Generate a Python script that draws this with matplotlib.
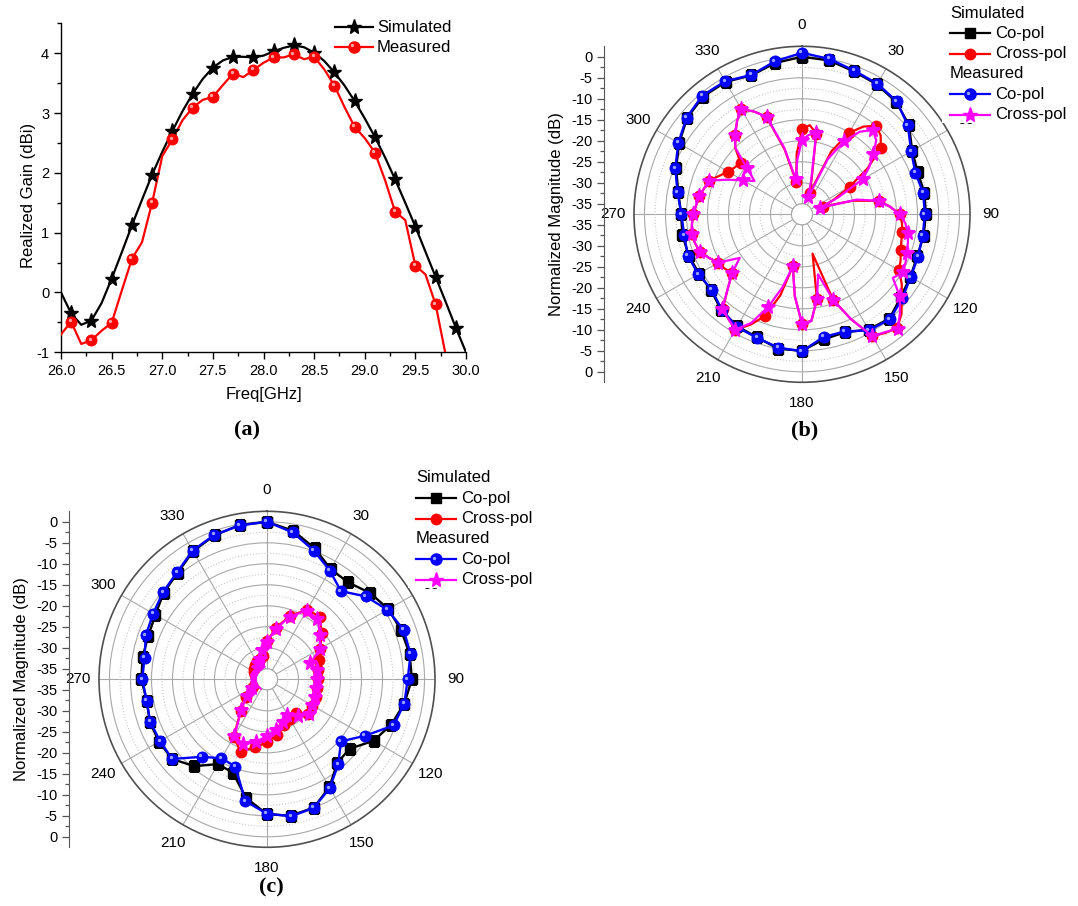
import numpy as np
import matplotlib
matplotlib.use("Agg")
import matplotlib.pyplot as plt
from matplotlib.lines import Line2D
from matplotlib.patches import Rectangle
from matplotlib.ticker import MultipleLocator, FixedLocator
from matplotlib.transforms import offset_copy

plt.rcParams['font.family'] = ['Liberation Sans', 'DejaVu Sans']
plt.rcParams['axes.unicode_minus'] = False

# ---------------- data: (a) realized gain ----------------
freq = [26.0, 26.1, 26.2, 26.3, 26.4, 26.5, 26.6, 26.7, 26.8, 26.9,
        27.0, 27.1, 27.2, 27.3, 27.4, 27.5, 27.6, 27.7, 27.8, 27.9,
        28.0, 28.1, 28.2, 28.3, 28.4, 28.5, 28.6, 28.7, 28.8, 28.9,
        29.0, 29.1, 29.2, 29.3, 29.4, 29.5, 29.6, 29.7, 29.8, 29.9, 30.0]
gain_sim = [0.0, -0.35, -0.54, -0.47, -0.18, 0.23, 0.67, 1.12, 1.55, 1.97,
            2.35, 2.70, 3.03, 3.32, 3.57, 3.76, 3.88, 3.94, 3.94, 3.93,
            3.96, 4.03, 4.09, 4.13, 4.10, 4.01, 3.87, 3.68, 3.46, 3.20,
            2.91, 2.60, 2.26, 1.89, 1.50, 1.10, 0.68, 0.26, -0.16, -0.59, -1.0]
gain_meas = [-0.70, -0.49, -0.86, -0.80, -0.64, -0.51, 0.03, 0.56, 0.84, 1.50,
             2.28, 2.56, 2.88, 3.09, 3.22, 3.27, 3.47, 3.66, 3.60, 3.72,
             3.84, 3.93, 3.93, 3.98, 3.90, 3.94, 3.73, 3.46, 3.10, 2.77,
             2.58, 2.34, 1.88, 1.35, 1.21, 0.45, 0.30, -0.20, -1.05, -1.6, -2.1]

# ---------------- data: (b) pattern ----------------
ang10 = list(range(0, 360, 10))
ang5 = list(range(0, 360, 5))
b_co_sim = [0.0, -0.3, -1.3, -1.8, -2.6, -4.3, -7.2, -8.2, -7.9, -8.0, -8.1, -8.3,
            -7.7, -6.8, -5.1, -5.8, -7.6, -7.3, -5.0, -5.0, -6.3, -6.7, -7.6, -9.3,
            -9.2, -8.8, -8.6, -8.7, -7.6, -5.6, -3.7, -1.8, -0.9, -1.1, -2.3, -0.9]
b_co_meas = [0.95, 0.06, -1.1, -1.6, -2.4, -4.6, -7.5, -8.75, -8.2, -8.25, -8.3, -8.1,
             -7.6, -6.35, -4.9, -5.6, -7.8, -7.85, -4.9, -5.25, -6.2, -6.5, -7.8, -9.5,
             -9.0, -8.6, -9.0, -8.8, -7.4, -5.4, -3.5, -1.65, -0.6, -0.9, -2.2, -0.5]
b_x_sim = [-17.3, -16.2, -18.0, -28.5, -32.0, -21.0, -15.1, -12.0, -10.0, -11.0, -13.0, -18.5,
           -24.4, -29.0, -32.1, -25.0, -19.0, -16.5, -14.2, -13.6, -13.3, -13.0, -12.5, -11.6,
           -10.8, -8.5, -6.5, -4.0, -2.2, -3.0, -4.0, -10.0, -15.8, -27.8, -17.0, -12.0,
           -11.5, -17.9, -24.9, -17.5, -11.7, -8.5, -5.8, -7.0, -8.2, -12.5, -15.8, -15.0,
           -14.5, -13.0, -11.6, -11.1, -10.8, -11.2, -11.6, -12.2, -12.7, -13.4, -14.0, -15.8,
           -17.2, -18.0, -18.4, -15.0, -12.8, -10.5, -8.6, -10.5, -12.8, -21.5, -29.6, -23.0]
b_x_meas = [-19.8, -18.5, -17.9, -29.0, -33.2, -23.0, -17.4, -13.5, -11.3, -12.5, -15.3, -18.0,
            -20.8, -28.0, -33.0, -24.0, -19.0, -16.5, -14.2, -12.8, -11.9, -11.4, -10.9, -10.3,
            -9.8, -11.1, -7.1, -4.5, -2.0, -3.2, -4.0, -10.0, -15.8, -22.7, -17.0, -12.0,
            -11.5, -17.9, -24.9, -19.5, -14.1, -9.0, -5.8, -7.0, -8.0, -12.5, -15.8, -19.4,
            -14.5, -13.0, -11.6, -11.1, -10.8, -11.2, -11.6, -12.2, -12.7, -13.4, -14.0, -18.0,
            -21.3, -23.7, -20.4, -15.0, -12.8, -10.5, -8.6, -10.5, -12.8, -21.0, -29.0, -24.5]

# ---------------- data: (c) pattern ----------------
c_co_sim = [0.0, -1.6, -4.3, -7.2, -7.4, -5.5, -4.1, -3.5, -3.0, -3.0, -4.3, -6.0,
            -8.2, -11.8, -11.5, -7.8, -5.0, -4.5, -5.4, -8.8, -13.8, -14.2, -10.5, -8.0,
            -7.8, -7.8, -8.4, -7.6, -7.4, -7.4, -6.8, -5.4, -4.4, -2.3, -1.0, -0.2]
c_co_meas = [0.0, -2.0, -4.9, -7.6, -10.1, -6.8, -4.4, -2.9, -2.8, -4.0, -4.3, -5.4,
             -10.6, -14.5, -11.1, -7.6, -4.9, -4.4, -5.5, -8.0, -15.4, -15.8, -13.4, -8.0,
             -8.1, -7.9, -8.4, -7.8, -7.9, -6.8, -6.2, -5.2, -4.2, -2.1, -0.9, -0.3]
c_x_sim = [-28.4, -25.0, -21.4, -18.4, -18.0, -20.5, -22.9, -24.4, -25.2, -25.3, -25.4, -25.2,
           -25.0, -24.8, -26.9, -26.5, -25.9, -24.0, -22.5, -21.1, -19.1, -21.7, -27.8, -30.9,
           -33.5, -34.5, -35.0, -35.0, -35.0, -34.5, -34.0, -33.5, -33.0, -32.5, -32.3, -31.9]
c_x_meas = [-28.5, -25.3, -21.6, -18.6, -18.8, -21.0, -23.0, -26.5, -25.4, -25.5, -25.6, -25.4,
            -25.2, -24.6, -26.0, -27.8, -26.7, -25.3, -24.0, -22.4, -21.0, -22.0, -28.0, -31.2,
            -33.5, -35.0, -35.0, -35.0, -35.0, -35.0, -35.0, -35.0, -34.0, -33.0, -32.3, -30.5]

theta_labels = ['0', '30', '60', '90', '120', '150', '180', '210', '240', '270', '300', '330']

W, H = 1078, 906
fig = plt.figure(figsize=(W / 100, H / 100), dpi=100)


def fx(x):
    return x / W


def fy(y):
    return 1 - y / H


BLUE = '#0000ff'
RED = '#ff0000'
MAG = '#ff00ff'


def ball(ax, x, y, color, hl, ms, every=None, z=5):
    ax.plot(x, y, ls='none', marker='o', ms=ms, mfc=color, mec=color, mew=0.6,
            markevery=every, zorder=z)
    tr = offset_copy(ax.transData, fig=fig, x=-1.1, y=1.1, units='points')
    ax.plot(x, y, ls='none', marker='o', ms=ms * 0.3, mfc=hl, mec='none', alpha=0.85,
            markevery=every, transform=tr, zorder=z + 0.1)


def fig_ball(x, y, color, hl, ms):
    fig.add_artist(Line2D([x], [y], transform=fig.transFigure, ls='none', marker='o',
                          ms=ms, mfc=color, mec=color, zorder=2.6))
    tr = offset_copy(fig.transFigure, fig=fig, x=-1.1, y=1.1, units='points')
    fig.add_artist(Line2D([x], [y], transform=tr, ls='none', marker='o',
                          ms=ms * 0.3, mfc=hl, mec='none', alpha=0.85, zorder=2.7))


# ---------------- (a) ----------------
axa = fig.add_axes([fx(61), fy(352.3), fx(466) - fx(61), (352.3 - 23.3) / H])
axa.plot(freq, gain_sim, color='black', lw=1.6, zorder=3)
axa.plot(freq, gain_sim, ls='none', marker='*', ms=11, color='black',
         markevery=slice(1, None, 2), zorder=4)
axa.plot(freq, gain_meas, color=RED, lw=1.6, zorder=3)
ball(axa, freq, gain_meas, RED, '#ffc0c0', 8, every=slice(1, None, 2))
axa.set_xlim(26, 30)
axa.set_ylim(-1, 4.5)
axa.xaxis.set_major_locator(MultipleLocator(0.5))
axa.xaxis.set_minor_locator(MultipleLocator(0.25))
axa.yaxis.set_major_locator(MultipleLocator(1))
axa.yaxis.set_minor_locator(MultipleLocator(0.5))
axa.xaxis.set_major_formatter(matplotlib.ticker.FormatStrFormatter('%.1f'))
axa.tick_params(which='major', direction='out', length=5, width=1, labelsize=10.5)
axa.tick_params(which='minor', direction='out', length=3, width=1)
for s in ['top', 'right']:
    axa.spines[s].set_visible(False)
for s in ['left', 'bottom']:
    axa.spines[s].set_linewidth(1.0)
fig.text(fx(264), fy(394), 'Freq[GHz]', ha='center', va='center', fontsize=12)
fig.text(fx(28), fy(195), 'Realized Gain (dBi)', ha='center', va='center',
         fontsize=12, rotation=90)

# legend (a)
for i, (lab, c) in enumerate([('Simulated', 'black'), ('Measured', RED)]):
    y = 27 + i * 20
    fig.add_artist(Line2D([fx(335), fx(373)], [fy(y), fy(y)], transform=fig.transFigure,
                          color=c, lw=1.6, zorder=2.5))
    if i == 0:
        fig.add_artist(Line2D([fx(354)], [fy(y)], transform=fig.transFigure, ls='none',
                              marker='*', ms=11, color=c, zorder=2.6))
    else:
        fig_ball(fx(354), fy(y), RED, '#ffc0c0', 8)
    fig.text(fx(377), fy(y), lab, ha='left', va='center', fontsize=12, zorder=3)


# ---------------- polar helpers ----------------
def setup_polar(ax):
    ax.set_theta_zero_location('N')
    ax.set_theta_direction(-1)
    ax.set_rlim(-35, 2.5)
    ax.set_rorigin(-37.5)
    ax.set_yticks(np.arange(-35, 1, 5))
    ax.set_yticks(np.arange(-32.5, 0, 5), minor=True)
    ax.set_yticklabels([])
    ax.tick_params(axis='y', which='both', length=0)
    ax.yaxis.grid(True, which='major', color='#a8a8a8', lw=0.8, ls='-')
    ax.yaxis.grid(True, which='minor', color='#c8c8c8', lw=0.8, ls=':')
    ax.set_xticks(np.deg2rad(np.arange(0, 360, 30)))
    ax.set_xticklabels(theta_labels)
    ax.xaxis.set_minor_locator(FixedLocator(np.deg2rad(np.arange(0, 360, 10))))
    ax.xaxis.grid(True, which='major', color='#a8a8a8', lw=0.8, ls='-')
    ax.tick_params(axis='x', which='both', direction='in', length=4, width=0.8,
                   color='#555555', pad=8, labelsize=11)
    ax.spines['polar'].set_color('#505050')
    ax.spines['polar'].set_linewidth(1.2)
    ax.spines['inner'].set_color('#a8a8a8')
    ax.spines['inner'].set_linewidth(0.8)


def radial_axis(cx, cy):
    axr = fig.add_axes([fx(cx - 198), fy(cy + 168), 0.0005, 336 / H])
    axr.set_ylim(-40, 40)
    vals = np.arange(0, -36, -5)
    pos = np.concatenate([vals + 37.5, -(vals[::-1] + 37.5)])
    labs = ['%d' % v for v in vals] + ['%d' % v for v in vals[::-1]]
    axr.set_yticks(pos)
    axr.set_yticklabels(labs)
    mvals = np.arange(-2.5, -36, -5)
    axr.set_yticks(np.concatenate([mvals + 37.5, -(mvals + 37.5)]), minor=True)
    axr.tick_params(axis='y', which='major', direction='out', length=5,
                    width=0.9, labelsize=10.5, color='#555555')
    axr.tick_params(axis='y', which='minor', direction='out', length=3,
                    width=0.9, color='#555555')
    axr.xaxis.set_visible(False)
    for s in ['top', 'right', 'bottom']:
        axr.spines[s].set_visible(False)
    axr.spines['left'].set_color('#555555')
    axr.patch.set_visible(False)
    fig.text(fx(cx - 245), fy(cy), 'Normalized Magnitude (dB)', ha='center',
             va='center', fontsize=12, rotation=90)


def closed(a, v):
    t = np.deg2rad(np.append(a, a[0]))
    return t, np.append(v, v[0])


def draw_pattern(ax, co_sim, co_meas, x_sim, x_meas, xang, xevery):
    t, r = closed(ang10, co_sim)
    ax.plot(t, r, color='black', lw=1.7, marker='s', ms=6.5, zorder=3)
    t, r = closed(xang, x_sim)
    ax.plot(t, r, color=RED, lw=1.6, zorder=3.5)
    ax.plot(t[:-1], r[:-1], ls='none', marker='o', ms=7.5, color=RED,
            markevery=xevery, zorder=3.6)
    t, r = closed(ang10, co_meas)
    ax.plot(t, r, color=BLUE, lw=1.7, zorder=4)
    ball(ax, t[:-1], r[:-1], BLUE, '#b8c2ff', 8, z=4.2)
    t, r = closed(xang, x_meas)
    ax.plot(t, r, color=MAG, lw=1.6, zorder=4.5)
    ax.plot(t[:-1], r[:-1], ls='none', marker='*', ms=11, color=MAG,
            markevery=xevery, zorder=4.6)


def draw_legend(x0, y0):
    fig.add_artist(Rectangle((fx(x0 - 8), fy(y0 + 110)), fx(140), 118 / H,
                             transform=fig.transFigure, facecolor='white',
                             edgecolor='none', zorder=1.5))
    entries = [('Simulated', None), ('Co-pol', ('black', 's', 6.5)),
               ('Cross-pol', (RED, 'o', 7.5)), ('Measured', None),
               ('Co-pol', (BLUE, 'ball', 8)), ('Cross-pol', (MAG, '*', 11))]
    for i, (lab, st) in enumerate(entries):
        y = y0 + i * 20.3
        if st is None:
            fig.text(fx(x0), fy(y), lab, ha='left', va='center', fontsize=12, zorder=3)
            continue
        c, m, ms = st
        fig.add_artist(Line2D([fx(x0), fx(x0 + 40)], [fy(y), fy(y)],
                              transform=fig.transFigure, color=c, lw=1.6, zorder=2.5))
        if m == 'ball':
            fig_ball(fx(x0 + 20), fy(y), c, '#b8c2ff', ms)
        else:
            fig.add_artist(Line2D([fx(x0 + 20)], [fy(y)], transform=fig.transFigure,
                                  ls='none', color=c, marker=m, ms=ms, zorder=2.6))
        fig.text(fx(x0 + 45), fy(y), lab, ha='left', va='center', fontsize=12, zorder=3)


# ---------------- (b) ----------------
bcx, bcy = 802, 214.3
axb = fig.add_axes([fx(bcx - 168), fy(bcy + 168), 336 / W, 336 / H], projection='polar')
setup_polar(axb)
draw_pattern(axb, b_co_sim, b_co_meas, b_x_sim, b_x_meas, ang5, slice(0, None, 2))
radial_axis(bcx, bcy)
draw_legend(950, 13)

# ---------------- (c) ----------------
ccx, ccy = 267, 679.3
axc = fig.add_axes([fx(ccx - 168), fy(ccy + 168), 336 / W, 336 / H], projection='polar')
setup_polar(axc)
draw_pattern(axc, c_co_sim, c_co_meas, c_x_sim, c_x_meas, ang10, None)
radial_axis(ccx, ccy)
draw_legend(416, 478)

# ---------------- panel labels ----------------
for txt, x, y in [('(a)', 247, 430), ('(b)', 805, 430), ('(c)', 271, 887)]:
    fig.text(fx(x), fy(y), txt, ha='center', va='center', fontsize=16,
             fontweight='bold', family=['Liberation Serif', 'DejaVu Serif'])

fig.savefig('out.png', dpi=100)
